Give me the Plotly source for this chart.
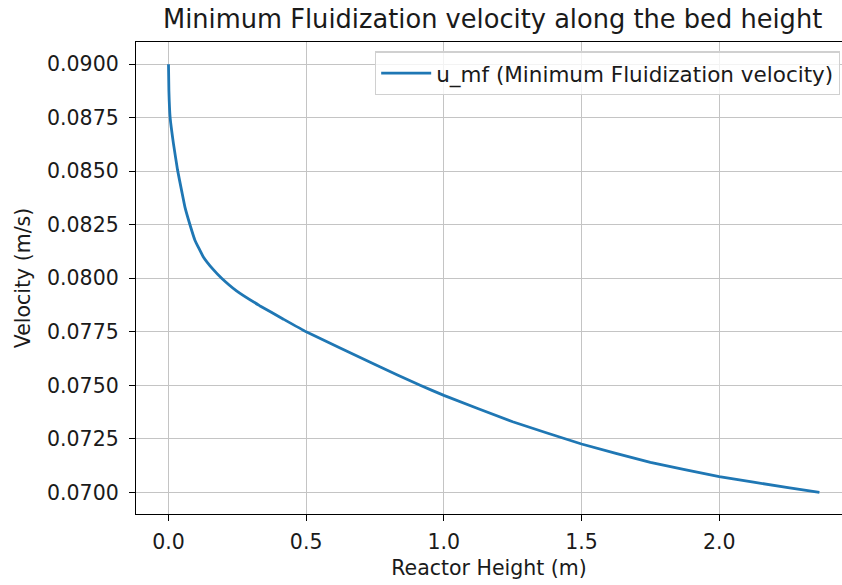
import plotly.graph_objects as go

# Data
reactor_height = [0.0, 0.0015, 0.006, 0.018, 0.033, 0.048, 0.060, 0.078, 0.096, 0.126,
                  0.163, 0.193, 0.247, 0.331, 0.416, 0.5, 0.75, 0.914, 1.0, 1.25,
                  1.5, 1.75, 2.0, 2.25, 2.364]
u_mf = [0.0900, 0.08876, 0.0875, 0.08629, 0.08505, 0.08407, 0.08331, 0.0825, 0.08178, 0.08101,
        0.0804, 0.0800, 0.07941, 0.07872, 0.0781, 0.0775, 0.07597, 0.0750, 0.07453, 0.0733,
        0.07226, 0.0714, 0.07074, 0.07022, 0.0700]
y_ticks = [0.0700, 0.0725, 0.0750, 0.0775, 0.0800, 0.0825, 0.0850, 0.0875, 0.0900]
x_ticks = [0.0, 0.5, 1.0, 1.5, 2.0]

FONT = "DejaVu Sans"
W, H = 842, 585
L, R, T, B = 135.7, 0, 41.5, 71

fig = go.Figure()
fig.add_trace(go.Scatter(
    x=reactor_height, y=u_mf, mode="lines",
    line=dict(color="#1f77b4", width=2.8, shape="spline", smoothing=0.3),
    name="u_mf (Minimum Fluidization velocity)",
))

axis_common = dict(
    showline=True, linecolor="black", linewidth=1.3,
    ticks="outside", ticklen=6, tickwidth=1.3, tickcolor="black",
    showgrid=True, gridcolor="#c4c4c4", gridwidth=1.3,
    zeroline=False,
    tickfont=dict(family=FONT, size=20.5, color="#1a1a1a"),
)

fig.update_layout(
    width=W, height=H,
    margin=dict(l=L, r=R, t=T, b=B, pad=0),
    paper_bgcolor="white", plot_bgcolor="white",
    font=dict(family=FONT, color="#1a1a1a"),
    xaxis=dict(
        **axis_common, range=[-0.118, 2.446], tickvals=x_ticks,
        ticktext=[f"{v:.1f}" for v in x_ticks], mirror=True, ticklabelstandoff=3,
        title=dict(text="Reactor Height (m)", font=dict(family=FONT, size=20.5), standoff=7),
    ),
    yaxis=dict(
        **axis_common, range=[0.06899, 0.091035], tickvals=y_ticks,
        ticktext=[f"{v:.4f}" for v in y_ticks], ticklabelstandoff=6,
        title=dict(text="Velocity (m/s)", font=dict(family=FONT, size=20.5), standoff=10),
    ),
    legend=dict(
        x=0.997, y=0.98, xanchor="right", yanchor="top",
        bgcolor="rgba(255,255,255,0.8)", bordercolor="#d0d0d0", borderwidth=1.3,
        font=dict(family=FONT, size=21.5, color="#1a1a1a"),
        itemwidth=50,
    ),
    showlegend=True,
)

fig.add_annotation(
    text="Minimum Fluidization velocity along the bed height",
    xref="paper", yref="paper", x=0.505, y=1.0, xanchor="center", yanchor="bottom",
    yshift=6, showarrow=False,
    font=dict(family=FONT, size=25.7, color="#1a1a1a"),
)

fig.write_html("out.html")
